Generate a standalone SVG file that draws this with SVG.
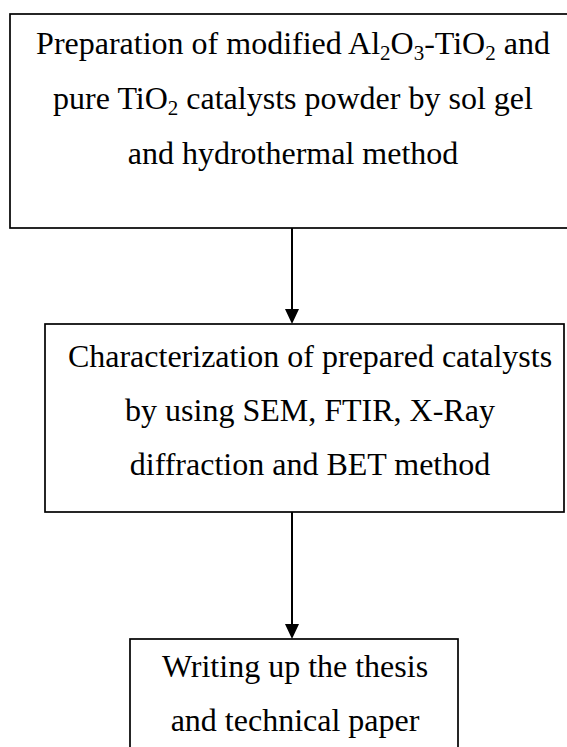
<svg xmlns="http://www.w3.org/2000/svg" width="567" height="747" viewBox="0 0 567 747">
<style>
.box{fill:#fff;stroke:#000;stroke-width:1.7}
.t{font-family:"Liberation Serif","Times New Roman",serif;font-size:32px;fill:#000;text-anchor:middle}
.sub{font-size:21px}
.c{stroke:#000;stroke-width:2;fill:none}
.ah{fill:#000}
</style>
<g id="connectors">
<path class="c" d="M292,228 V310"/>
<path class="ah" d="M285,309 L299,309 L292,324 Z"/>
<path class="c" d="M292,512 V625"/>
<path class="ah" d="M285,624 L299,624 L292,639 Z"/>
</g>
<g id="node1">
<rect class="box" x="10" y="14" width="570" height="214"/>
<text class="t" x="293" y="54">Preparation of modified Al<tspan class="sub" dy="6">2</tspan><tspan dy="-6">O</tspan><tspan class="sub" dy="6">3</tspan><tspan dy="-6">-TiO</tspan><tspan class="sub" dy="6">2</tspan><tspan dy="-6"> and</tspan></text>
<text class="t" x="293" y="109">pure TiO<tspan class="sub" dy="6">2</tspan><tspan dy="-6"> catalysts powder by sol gel</tspan></text>
<text class="t" x="293" y="164">and hydrothermal method</text>
</g>
<g id="node2">
<rect class="box" x="45" y="324" width="519" height="188"/>
<text class="t" x="310" y="367">Characterization of prepared catalysts</text>
<text class="t" x="310" y="421">by using SEM, FTIR, X-Ray</text>
<text class="t" x="310" y="475">diffraction and BET method</text>
</g>
<g id="node3">
<rect class="box" x="130" y="639" width="328" height="130"/>
<text class="t" x="295" y="677">Writing up the thesis</text>
<text class="t" x="295" y="731">and technical paper</text>
</g>
</svg>
